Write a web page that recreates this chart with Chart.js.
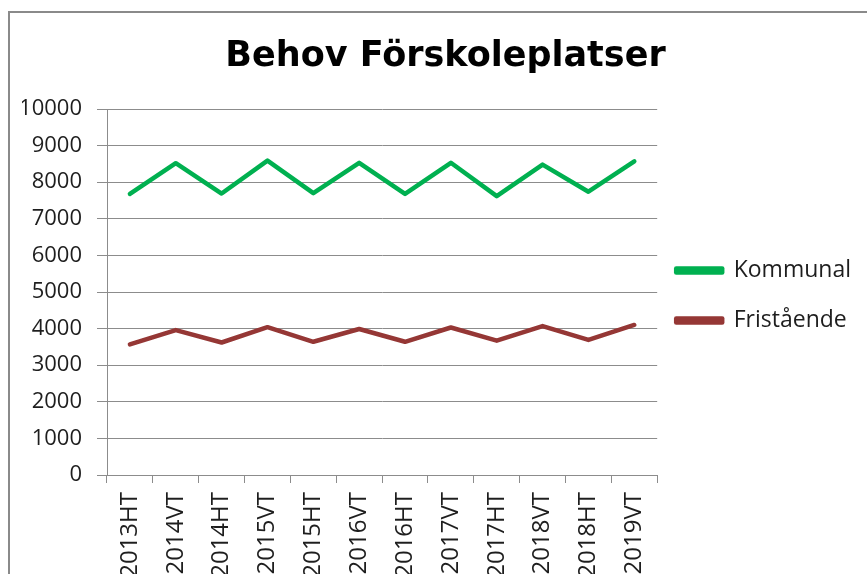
<!DOCTYPE html>
<html>
<head>
<meta charset="utf-8">
<script src="https://cdn.jsdelivr.net/npm/chart.js@4/dist/chart.umd.min.js"></script>
<style>
  html, body { margin: 0; padding: 0; background: #fff; overflow: hidden; }
  body { width: 867px; height: 574px; position: relative; }
  .frame { position: absolute; left: 8px; top: 11px; border: 2px solid #8a8a8a; width: 866px; height: 565px; }
</style>
</head>
<body>
<div class="frame"><canvas id="chart" width="866" height="565"></canvas></div>
<script>
const terms = ['2013HT', '2014VT', '2014HT', '2015VT', '2015HT', '2016VT', '2016HT', '2017VT', '2017HT', '2018VT', '2018HT', '2019VT'];
const kommunal = [7680, 8520, 7690, 8590, 7700, 8530, 7680, 8530, 7620, 8480, 7740, 8570];
const fristaende = [3570, 3960, 3620, 4040, 3640, 3990, 3640, 4030, 3670, 4070, 3690, 4100];
const yMin = 0, yMax = 10000, yStep = 1000;

const gridGray = '#8c8c8c';
const textCol = '#1e1e1e';

// legend sits a little into the plot area, like the Excel original
const nudgeLegend = {
  id: 'nudgeLegend',
  afterLayout(chart) {
    chart.legend.left -= 8;
    chart.legend.right -= 8;
  }
};

new Chart(document.getElementById('chart'), {
  type: 'line',
  data: {
    labels: terms,
    datasets: [
      { label: 'Kommunal', data: kommunal, borderColor: '#00b050', backgroundColor: '#00b050', borderWidth: 4.5, borderJoinStyle: 'round', borderCapStyle: 'round', pointRadius: 0, tension: 0 },
      { label: 'Fristående', data: fristaende, borderColor: '#953735', backgroundColor: '#953735', borderWidth: 4.5, borderJoinStyle: 'round', borderCapStyle: 'round', pointRadius: 0, tension: 0 }
    ]
  },
  options: {
    responsive: false,
    animation: false,
    layout: { padding: { left: 12, right: 7, top: 0, bottom: 0 } },
    plugins: {
      title: {
        display: true,
        text: 'Behov Förskoleplatser',
        color: '#000',
        font: { family: 'DejaVu Sans', size: 35, weight: 'bold', lineHeight: 1.2 },
        padding: { top: 23, bottom: 31 }
      },
      legend: {
        position: 'right',
        maxWidth: 219,
        labels: {
          boxWidth: 46, boxHeight: 4,
          padding: 27,
          color: textCol,
          font: { family: 'Open Sans', size: 23 }
        }
      },
      tooltip: { enabled: false }
    },
    scales: {
      x: {
        offset: true,
        grid: { offset: true, drawOnChartArea: false, tickLength: 8, color: gridGray },
        border: { color: gridGray },
        ticks: { autoSkip: false, minRotation: 90, maxRotation: 90, padding: 9, color: textCol, font: { family: 'Open Sans', size: 24 } },
        afterFit: s => { s.height = 103; }
      },
      y: {
        min: yMin, max: yMax,
        grid: { tickLength: 10, color: gridGray },
        border: { color: gridGray },
        ticks: { stepSize: yStep, padding: 15, color: textCol, font: { family: 'Open Sans', size: 22 }, callback: v => String(v) },
        afterFit: s => { s.width = 85; }
      }
    }
  },
  plugins: [nudgeLegend]
});
</script>
</body>
</html>
